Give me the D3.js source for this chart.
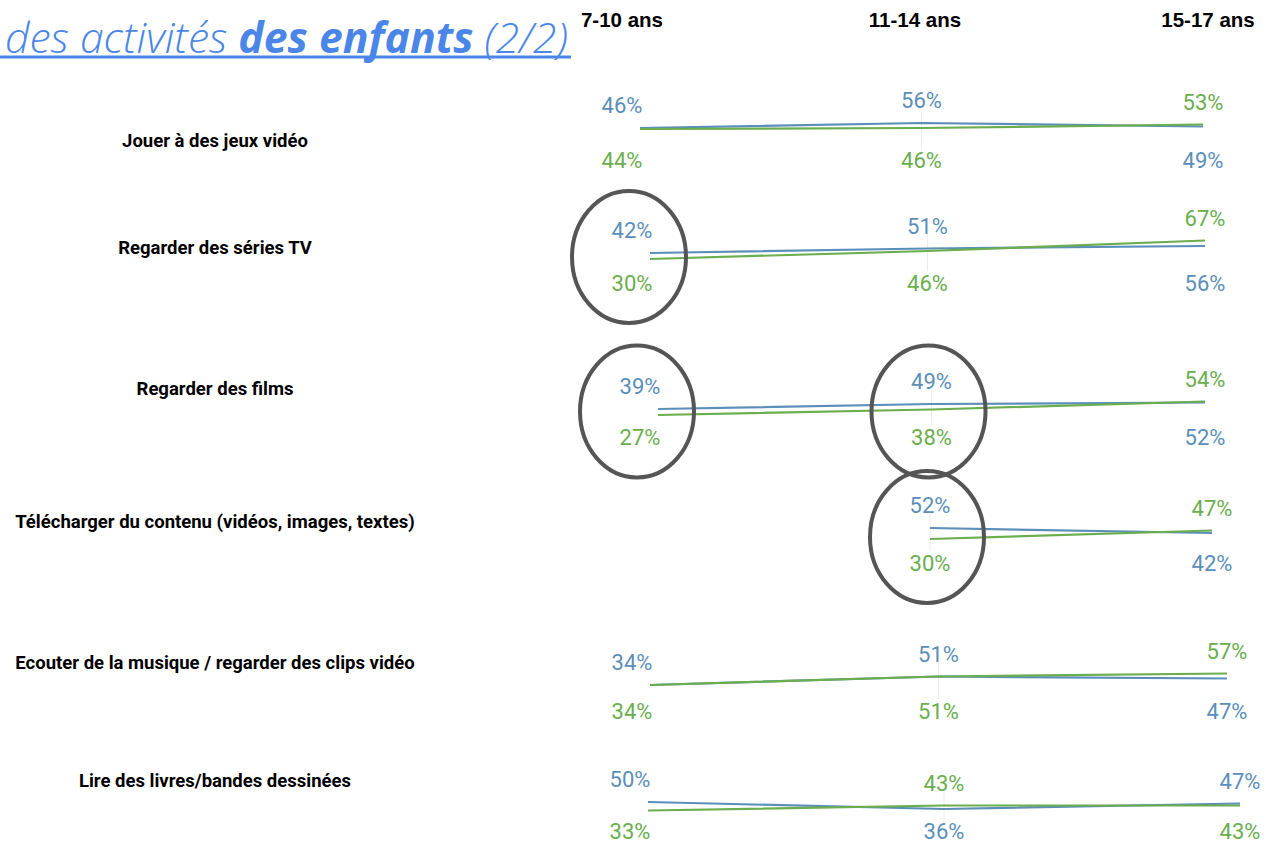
<!DOCTYPE html>
<html>
<head>
<meta charset="utf-8">
<script src="https://cdn.jsdelivr.net/npm/d3@7"></script>
<style>
  html, body { margin: 0; padding: 0; background: #ffffff; }
  svg { display: block; }
</style>
</head>
<body>
<svg id="chart" width="1264" height="846"></svg>
<script>
// ---------- DATA ----------
const categories = [
  "Jouer à des jeux vidéo",
  "Regarder des séries TV",
  "Regarder des films",
  "Télécharger du contenu (vidéos, images, textes)",
  "Ecouter de la musique / regarder des clips vidéo",
  "Lire des livres/bandes dessinées"
];
const ageGroups = ["7-10 ans", "11-14 ans", "15-17 ans"];
const serieBleue = [
  [46, 56, 49],
  [42, 51, 56],
  [39, 49, 52],
  [null, 52, 42],
  [34, 51, 47],
  [50, 36, 47]
];
const serieVerte = [
  [44, 46, 53],
  [30, 46, 67],
  [27, 38, 54],
  [null, 30, 47],
  [34, 51, 57],
  [33, 43, 43]
];
// highlighted cells [row index, age group index]
const highlights = [[1, 0], [2, 0], [2, 1], [3, 1]];
const titleParts = [
  { text: "des activités ", weight: 300 },
  { text: "des enfants", weight: 700 },
  { text: " (2/2)", weight: 300 }
];

// ---------- LAYOUT (positions/styles only) ----------
const rowLayout = [
  { x0: 640, x1: 1203, base: 151,   labelY: 140 },
  { x0: 650, x1: 1205, base: 274,   labelY: 247 },
  { x0: 658, x1: 1205, base: 428.5, labelY: 388 },
  { x0: 648, x1: 1212, base: 554,   labelY: 521 },
  { x0: 650, x1: 1227, base: 702,   labelY: 662 },
  { x0: 648, x1: 1240, base: 827,   labelY: 780 }
];
const headerX = [622, 915, 1208];
const colors = { blue: "#5b8fba", green: "#6aae4e", title: "#4a86e8" };

const svg = d3.select("#chart");

// ---------- TITLE ----------
const title = svg.append("text")
  .attr("x", 5).attr("y", 53)
  .attr("font-family", "'Open Sans', sans-serif")
  .attr("font-style", "italic")
  .attr("font-size", 40)
  .attr("fill", colors.title);
title.selectAll("tspan").data(titleParts).join("tspan")
  .attr("font-weight", d => d.weight)
  .text(d => d.text);
const tw = title.node().getComputedTextLength();
title.attr("font-size", 40 * 563 / tw);
svg.append("line")
  .attr("x1", 0).attr("x2", 571).attr("y1", 57).attr("y2", 57)
  .attr("stroke", colors.title).attr("stroke-width", 3);

// ---------- HEADERS ----------
svg.append("g").selectAll("text").data(ageGroups).join("text")
  .attr("x", (d, i) => headerX[i]).attr("y", 27)
  .attr("text-anchor", "middle")
  .attr("font-family", "'Liberation Sans', Arial, sans-serif")
  .attr("font-weight", 700).attr("font-size", 20.5)
  .attr("fill", "#000")
  .text(d => d);

// ---------- ROWS ----------
categories.forEach((cat, i) => {
  const L = rowLayout[i];
  const g = svg.append("g");
  const x = d3.scalePoint().domain(ageGroups).range([L.x0, L.x1]);
  const y = d3.scaleLinear().domain([0, 100]).range([L.base, L.base - 50]);

  // row label
  g.append("text")
    .attr("x", 215).attr("y", L.labelY + 6.5)
    .attr("text-anchor", "middle")
    .attr("font-family", "Roboto, sans-serif")
    .attr("font-weight", 700).attr("font-size", 18.5)
    .attr("fill", "#000")
    .text(cat);

  // faint middle gridline
  g.append("line")
    .attr("x1", x(ageGroups[1])).attr("x2", x(ageGroups[1]))
    .attr("y1", L.base - 40).attr("y2", L.base - 3)
    .attr("stroke", "#ececec").attr("stroke-width", 1);

  const series = [
    { key: "blue", vals: serieBleue[i] },
    { key: "green", vals: serieVerte[i] }
  ];
  const line = d3.line()
    .defined(d => d.v != null)
    .x(d => x(d.age)).y(d => y(d.v));
  series.forEach(s => {
    g.append("path")
      .datum(ageGroups.map((a, j) => ({ age: a, v: s.vals[j] })))
      .attr("d", line)
      .attr("fill", "none")
      .attr("stroke", colors[s.key])
      .attr("stroke-width", 2.2);
  });

  // value labels
  ageGroups.forEach((a, j) => {
    const b = serieBleue[i][j], gr = serieVerte[i][j];
    if (b == null || gr == null) return;
    const top = b >= gr ? { v: b, c: colors.blue } : { v: gr, c: colors.green };
    const bot = b >= gr ? { v: gr, c: colors.green } : { v: b, c: colors.blue };
    const lx = x(a) + (j === 0 ? -18 : 0);
    const botY = Math.min(L.base + 16.5, 839);
    [[top, y(top.v) - 15], [bot, botY]].forEach(([d, yy]) => {
      g.append("text")
        .attr("x", lx).attr("y", yy)
        .attr("text-anchor", "middle")
        .attr("font-family", "Roboto, sans-serif")
        .attr("font-weight", 400).attr("font-size", 22)
        .attr("fill", d.c)
        .text(d.v + "%");
    });
  });
});

// ---------- HIGHLIGHT ELLIPSES ----------
highlights.forEach(([r, c]) => {
  const L = rowLayout[r];
  const x = d3.scalePoint().domain(ageGroups).range([L.x0, L.x1]);
  const cx = x(ageGroups[c]) + (c === 0 ? -18 : 0) - 3;
  svg.append("ellipse")
    .attr("cx", cx).attr("cy", L.base - 17)
    .attr("rx", 57).attr("ry", 66)
    .attr("fill", "none")
    .attr("stroke", "#555").attr("stroke-width", 4);
});
</script>
</body>
</html>
